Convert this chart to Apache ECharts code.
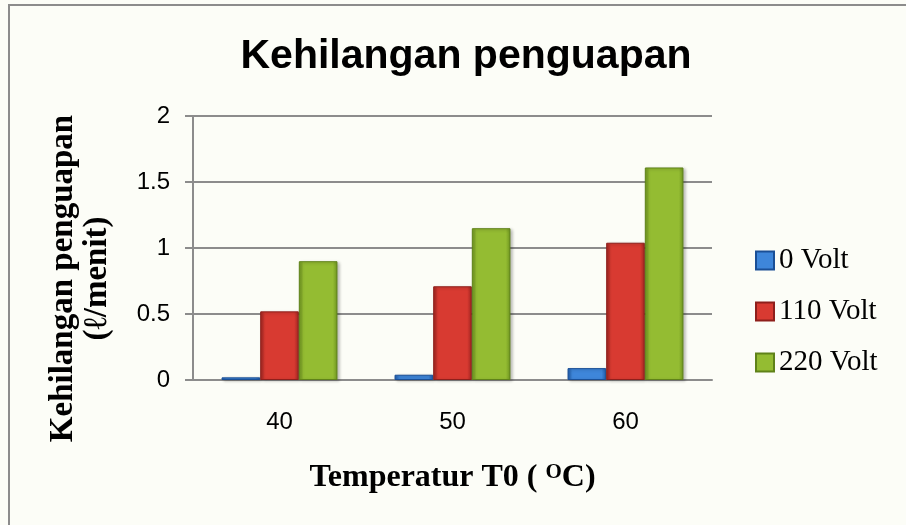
<!DOCTYPE html>
<html>
<head>
<meta charset="utf-8">
<script src="https://cdn.jsdelivr.net/npm/echarts@6/dist/echarts.min.js"></script>
<style>
html,body{margin:0;padding:0;background:#FCFDF7;}
#chart{width:906px;height:525px;}
</style>
</head>
<body>
<div id="chart"></div>
<script>
var categories = ['40', '50', '60'];
var seriesNames = ['0 Volt', '110 Volt', '220 Volt'];
var volt0 = [0.02, 0.04, 0.09];
var volt110 = [0.52, 0.71, 1.04];
var volt220 = [0.90, 1.15, 1.61];
var yTicks = [0, 0.5, 1, 1.5, 2];

var chart = echarts.init(document.getElementById('chart'), null, {renderer: 'canvas'});

function grad(dark, light) {
  return new echarts.graphic.LinearGradient(0, 0, 1, 0, [
    {offset: 0, color: dark},
    {offset: 0.12, color: light},
    {offset: 0.88, color: light},
    {offset: 1, color: dark}
  ]);
}
var fills = [grad('#1F5AA8', '#3E86DA'), grad('#9E2420', '#D83A31'), grad('#6E9420', '#94BC32')];
var borders = ['#1A4F96', '#8E1F1B', '#5F8219'];
var legendColors = ['#3A7ECF', '#D23A32', '#8DB52F'];
var dataSets = [volt0, volt110, volt220];

var series = seriesNames.map(function (name, i) {
  return {
    name: name,
    type: 'bar',
    data: dataSets[i],
    barGap: '0%',
    barCategoryGap: '33%',
    itemStyle: {color: fills[i], borderColor: borders[i], borderWidth: 1, shadowColor: 'rgba(0,0,0,0.25)', shadowBlur: 3, shadowOffsetX: 2, shadowOffsetY: 1},
    emphasis: {disabled: true}
  };
});

chart.setOption({
  backgroundColor: '#FCFDF7',
  animation: false,
  color: legendColors,
  title: {
    text: 'Kehilangan penguapan',
    left: 461,
    textAlign: 'center',
    top: 31,
    textStyle: {fontFamily: 'Liberation Sans', fontWeight: 'bold', fontSize: 41, color: '#000'}
  },
  legend: {
    orient: 'vertical',
    left: 750,
    top: 241,
    itemWidth: 18,
    itemHeight: 18,
    itemGap: 22,
    icon: 'rect',
    data: seriesNames,
    textStyle: {fontFamily: 'Liberation Serif', fontSize: 29, color: '#000'}
  },
  grid: {left: 193, right: 194, top: 116, bottom: 145, containLabel: false},
  xAxis: {
    type: 'category',
    data: categories,
    name: 'Temperatur T0 ( {sup|O}C)',
    nameLocation: 'middle',
    nameGap: 82,
    nameTextStyle: {fontFamily: 'Liberation Serif', fontWeight: 'bold', fontSize: 32, color: '#000',
      rich: {sup: {fontFamily: 'Liberation Serif', fontSize: 21, verticalAlign: 'top', padding: [0, 0, 10, 0], color: '#000'}}},
    axisLine: {show: true, lineStyle: {color: '#8C8C8C', width: 2}},
    axisTick: {show: false},
    axisLabel: {fontFamily: 'Liberation Sans', fontSize: 24, color: '#000', margin: 30}
  },
  yAxis: {
    type: 'value',
    min: 0,
    max: 2,
    interval: 0.5,
    name: 'Kehilangan penguapan\n(\u2113/menit)',
    nameLocation: 'middle',
    nameRotate: 90,
    nameGap: 79,
    nameTextStyle: {fontFamily: 'Liberation Serif', fontWeight: 'bold', fontSize: 33, color: '#000', lineHeight: 34, padding: [0, 61, 0, 0]},
    axisLine: {show: true, lineStyle: {color: '#8C8C8C', width: 2}},
    axisTick: {show: true, length: 8, inside: false, lineStyle: {color: '#8C8C8C', width: 2}},
    splitLine: {show: true, lineStyle: {color: '#8C8C8C', width: 2}},
    axisLabel: {fontFamily: 'Liberation Sans', fontSize: 24, color: '#000', margin: 23,
      formatter: function (v) { return yTicks.indexOf(v) >= 0 ? String(v) : ''; }}
  },
  graphic: [{
    type: 'rect',
    shape: {x: 9, y: 5, width: 920, height: 540},
    style: {fill: 'none', stroke: '#8C8C8C', lineWidth: 2},
    silent: true,
    z: 100
  }],
  series: series
});
</script>
</body>
</html>
